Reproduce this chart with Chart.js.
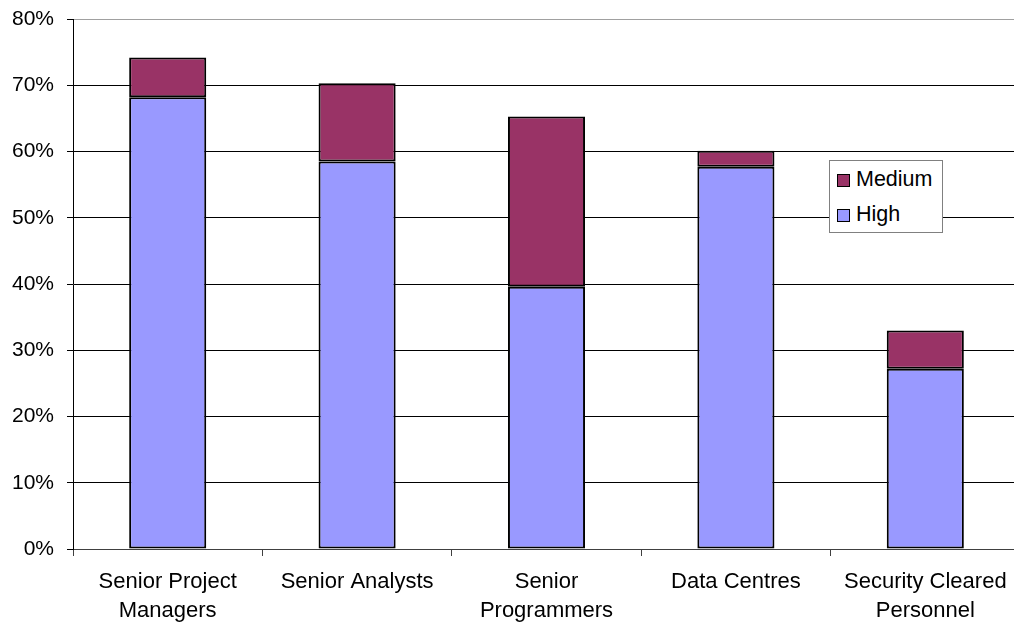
<!DOCTYPE html>
<html>
<head>
<meta charset="utf-8">
<script src="https://cdn.jsdelivr.net/npm/chart.js@4.4.1/dist/chart.umd.min.js"></script>
<style>
    html, body { margin: 0; padding: 0; background: #fff; overflow: hidden; }
    #wrap { position: relative; width: 1024px; height: 624px; }
    #legend {
        position: absolute; left: 829px; top: 160px; width: 114px; height: 73px;
        border: 1px solid #808080; background: #fff; box-sizing: border-box;
        font-family: "Liberation Sans", Arial, sans-serif; font-size: 21.5px; color: #000;
    }
    #legend div { position: absolute; left: 7px; height: 24px; line-height: 24px; white-space: nowrap; }
    #legend span.sw {
        display: inline-block; width: 11px; height: 11px; border: 1.5px solid #000;
        margin-right: 6px; vertical-align: -1px;
    }
</style>
</head>
<body>
<div id="wrap">
    <canvas id="chart" width="1024" height="624"></canvas>
    <div id="legend"></div>
</div>
<script>
const categories = [
    ['Senior Project', 'Managers'],
    'Senior Analysts',
    ['Senior', 'Programmers'],
    'Data Centres',
    ['Security Cleared', 'Personnel']
];
const highValues = [68.2, 58.5, 39.6, 57.7, 27.2];
const mediumValues = [6.0, 11.8, 25.7, 2.4, 5.8];
const yTicks = [0, 10, 20, 30, 40, 50, 60, 70, 80];

const highColor = '#9999FF';
const mediumColor = '#993366';
const fontFamily = '"Liberation Sans", Arial, sans-serif';

const ctx = document.getElementById('chart').getContext('2d');
const myChart = new Chart(ctx, {
    type: 'bar',
    data: {
        labels: categories,
        datasets: [{
            label: 'High',
            data: highValues,
            backgroundColor: highColor,
            borderColor: '#000',
            borderWidth: 2,
            borderSkipped: false,
            categoryPercentage: 1,
            barPercentage: 0.407
        }, {
            label: 'Medium',
            data: mediumValues,
            backgroundColor: mediumColor,
            borderColor: '#000',
            borderWidth: 2,
            borderSkipped: false,
            categoryPercentage: 1,
            barPercentage: 0.407
        }]
    },
    options: {
        responsive: false,
        animation: false,
        layout: { padding: { left: 0, right: 4, top: 19, bottom: 0 } },
        plugins: {
            legend: { display: false },
            tooltip: { enabled: false }
        },
        scales: {
            x: {
                stacked: true,
                offset: true,
                grid: {
                    offset: true,
                    drawOnChartArea: false,
                    drawTicks: true,
                    tickLength: 7,
                    color: '#404040'
                },
                border: { color: '#404040', width: 1 },
                ticks: {
                    color: '#000',
                    font: { family: fontFamily, size: 22, lineHeight: 1.3 },
                    padding: 12,
                    maxRotation: 0,
                    autoSkip: false
                },
                afterFit: function (scale) {
                    scale.height = 75;
                    scale.paddingLeft = 0;
                    scale.paddingRight = 0;
                }
            },
            y: {
                stacked: true,
                min: 0,
                max: 80,
                afterBuildTicks: function (scale) {
                    scale.ticks = yTicks.map(v => ({ value: v }));
                },
                grid: {
                    color: function (c) {
                        if (c.tick && c.tick.value === 80) return '#a0a0a0';
                        if (c.tick && c.tick.value === 0) return '#404040';
                        return '#000';
                    },
                    lineWidth: 1,
                    tickLength: 6,
                    tickColor: '#000'
                },
                border: { color: '#000', width: 1 },
                ticks: {
                    color: '#000',
                    font: { family: fontFamily, size: 21 },
                    padding: 13,
                    callback: v => v + '%'
                },
                afterFit: function (scale) {
                    scale.width = 73;
                    scale.paddingTop = 0;
                    scale.paddingBottom = 0;
                }
            }
        }
    }
});

// legend box inside the plot, Medium listed first
const legendEl = document.getElementById('legend');
const legendItems = [
    { text: 'Medium', color: mediumColor, top: 6 },
    { text: 'High', color: highColor, top: 41 }
];
legendItems.forEach(item => {
    const row = document.createElement('div');
    row.style.top = item.top + 'px';
    const sw = document.createElement('span');
    sw.className = 'sw';
    sw.style.background = item.color;
    row.appendChild(sw);
    row.appendChild(document.createTextNode(item.text));
    legendEl.appendChild(row);
});
</script>
</body>
</html>
